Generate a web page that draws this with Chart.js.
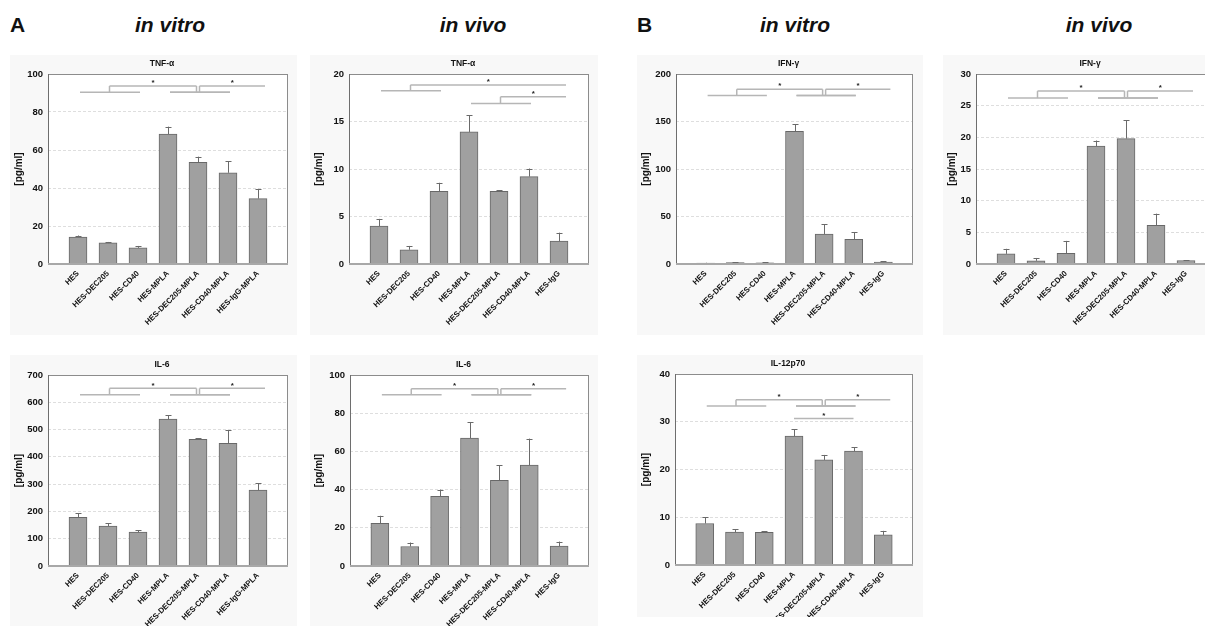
<!DOCTYPE html>
<html>
<head>
<meta charset="utf-8">
<script src="https://cdn.jsdelivr.net/npm/chart.js@4.4.1/dist/chart.umd.min.js"></script>
<style>
  html, body { margin: 0; padding: 0; background: #fff; width: 1205px; height: 626px; overflow: hidden; position: relative; }
  canvas { position: absolute; display: block; }
  .hdr { position: absolute; top: 14px; font: italic bold 21px 'Liberation Sans', Arial, sans-serif; line-height: 21px; color: #111; white-space: nowrap; transform: translateX(-50%); }
  .tag { position: absolute; top: 14px; font: bold 21px 'Liberation Sans', Arial, sans-serif; line-height: 21px; color: #111; }
</style>
</head>
<body>
<div class="tag" style="left:10px">A</div>
<div class="hdr" style="left:170px">in vitro</div>
<div class="hdr" style="left:473px">in vivo</div>
<div class="tag" style="left:637px">B</div>
<div class="hdr" style="left:795px">in vitro</div>
<div class="hdr" style="left:1099px">in vivo</div>

<script>
// Treatment groups
const labelsVitro = ['HES', 'HES-DEC205', 'HES-CD40', 'HES-MPLA', 'HES-DEC205-MPLA', 'HES-CD40-MPLA', 'HES-IgG-MPLA'];
const labelsVivo  = ['HES', 'HES-DEC205', 'HES-CD40', 'HES-MPLA', 'HES-DEC205-MPLA', 'HES-CD40-MPLA', 'HES-IgG'];

// Cytokine concentrations [pg/ml]: mean and upper error
const tnfVitroMean  = [14.2, 11.2, 8.5, 68.4, 53.5, 48.0, 34.4];
const tnfVitroErr   = [0.8, 0.4, 1.0, 3.9, 3.0, 6.0, 5.1];
const tnfVitroTicks = [0, 20, 40, 60, 80, 100];

const tnfVivoMean  = [4.0, 1.5, 7.65, 13.9, 7.65, 9.2, 2.4];
const tnfVivoErr   = [0.75, 0.4, 0.9, 1.75, 0.1, 0.85, 0.9];
const tnfVivoTicks = [0, 5, 10, 15, 20];

const ifnVitroMean  = [1.0, 1.5, 1.2, 139.6, 31.6, 26.0, 2.1];
const ifnVitroErr   = [0.3, 0.3, 0.8, 7.7, 10.5, 7.7, 1.0];
const ifnVitroTicks = [0, 50, 100, 150, 200];

const ifnVivoMean  = [1.6, 0.5, 1.7, 18.6, 19.8, 6.1, 0.55];
const ifnVivoErr   = [0.8, 0.45, 1.95, 0.9, 2.9, 1.85, 0.05];
const ifnVivoTicks = [0, 5, 10, 15, 20, 25, 30];

const il6VitroMean  = [178, 146, 124, 538, 464, 450, 278];
const il6VitroErr   = [16, 10, 7, 15, 5, 48, 26];
const il6VitroTicks = [0, 100, 200, 300, 400, 500, 600, 700];

const il6VivoMean  = [22.3, 10.2, 36.5, 67.0, 44.9, 52.8, 10.4];
const il6VivoErr   = [4.0, 2.1, 3.5, 8.4, 7.9, 13.9, 2.4];
const il6VivoTicks = [0, 20, 40, 60, 80, 100];

const il12VitroMean  = [8.7, 6.9, 6.85, 27.0, 22.0, 23.85, 6.3];
const il12VitroErr   = [1.3, 0.55, 0.2, 1.4, 1.05, 0.85, 0.85];
const il12VitroTicks = [0, 10, 20, 30, 40];

// Significant comparisons between groups (index ranges), bracket levels in pg/ml
const tnfVitroSig  = [{ a: [0, 2], b: [3, 5], low: 90.4, high: 93.7 }, { a: [3, 5], b: [6, 6], low: 90.4, high: 93.7 }];
const tnfVivoSig   = [{ a: [0, 2], b: [6, 6], low: 18.25, high: 18.85 }, { a: [3, 5], b: [6, 6], low: 16.9, high: 17.6 }];
const ifnVitroSig  = [{ a: [0, 2], b: [3, 5], low: 177.5, high: 183.9 }, { a: [3, 5], b: [6, 6], low: 177.5, high: 183.9 }];
const ifnVivoSig   = [{ a: [0, 2], b: [3, 5], low: 26.2, high: 27.3 }, { a: [3, 5], b: [6, 6], low: 26.2, high: 27.3 }];
const il6VitroSig  = [{ a: [0, 2], b: [3, 5], low: 628, high: 651 }, { a: [3, 5], b: [6, 6], low: 628, high: 651 }];
const il6VivoSig   = [{ a: [0, 2], b: [3, 5], low: 89.6, high: 92.8 }, { a: [3, 5], b: [6, 6], low: 89.6, high: 92.8 }];
const il12VitroSig = [{ a: [0, 2], b: [3, 5], low: 33.3, high: 34.6 }, { a: [3, 5], b: [6, 6], low: 33.3, high: 34.6 }, { a: [3, 3], b: [5, 5], high: 30.7 }];

const FONT = "'Liberation Sans', Arial, sans-serif";
Chart.defaults.font.family = FONT;
Chart.defaults.color = '#111';

// Panel layout: bg = [x, y, w, h] of panel box, plot = [left, top, right, bottom] of plot area (page px)
const panels = [
  { title: 'TNF-\u03b1',  labels: labelsVitro, mean: tnfVitroMean,  err: tnfVitroErr,  ticks: tnfVitroTicks,  sig: tnfVitroSig,  bg: [10, 55, 287, 280],  plot: [48, 74, 288, 264] },
  { title: 'TNF-\u03b1',  labels: labelsVivo,  mean: tnfVivoMean,   err: tnfVivoErr,   ticks: tnfVivoTicks,   sig: tnfVivoSig,   bg: [310, 55, 288, 280], plot: [349, 74, 589, 264] },
  { title: 'IFN-\u03b3',  labels: labelsVivo,  mean: ifnVitroMean,  err: ifnVitroErr,  ticks: ifnVitroTicks,  sig: ifnVitroSig,  bg: [637, 55, 286, 280], plot: [676, 74, 913, 264] },
  { title: 'IFN-\u03b3',  labels: labelsVivo,  mean: ifnVivoMean,   err: ifnVivoErr,   ticks: ifnVivoTicks,   sig: ifnVivoSig,   bg: [943, 55, 283, 280], plot: [976, 74, 1216, 264] },
  { title: 'IL-6',        labels: labelsVitro, mean: il6VitroMean,  err: il6VitroErr,  ticks: il6VitroTicks,  sig: il6VitroSig,  bg: [10, 355, 287, 271], plot: [48, 375, 288, 566] },
  { title: 'IL-6',        labels: labelsVivo,  mean: il6VivoMean,   err: il6VivoErr,   ticks: il6VivoTicks,   sig: il6VivoSig,   bg: [310, 355, 288, 271], plot: [350, 375, 589, 566] },
  { title: 'IL-12p70',    labels: labelsVivo,  mean: il12VitroMean, err: il12VitroErr, ticks: il12VitroTicks, sig: il12VitroSig, bg: [637, 355, 286, 262], plot: [675, 374, 913, 565] }
];

function line(ctx, x1, y1, x2, y2) {
  ctx.beginPath(); ctx.moveTo(x1, y1); ctx.lineTo(x2, y2); ctx.stroke();
}

// Panel background, frame, title, error bars and significance brackets
const decorPlugin = {
  id: 'decor',
  beforeDraw(chart) {
    const { ctx, chartArea: a, width, height } = chart;
    ctx.save();
    ctx.fillStyle = '#f8f8f8';
    ctx.fillRect(0, 0, width, height);
    ctx.fillStyle = '#ffffff';
    ctx.fillRect(a.left, a.top, a.right - a.left, a.bottom - a.top);
    ctx.restore();
  },
  afterDatasetsDraw(chart, args, opts) {
    const { ctx, chartArea: a } = chart;
    const xs = chart.scales.x, ys = chart.scales.y;
    const cfg = opts.panel;
    ctx.save();

    // error bars (upper only)
    const meta = chart.getDatasetMeta(0);
    ctx.strokeStyle = '#6a6a6a';
    ctx.lineWidth = 1;
    meta.data.forEach((bar, i) => {
      const x = Math.round(bar.x) + 0.5;
      const yTop = ys.getPixelForValue(cfg.mean[i] + cfg.err[i]);
      line(ctx, x, bar.y, x, yTop);
      line(ctx, x - 3, Math.round(yTop) + 0.5, x + 3, Math.round(yTop) + 0.5);
    });

    // frame
    ctx.lineWidth = 1;
    ctx.strokeStyle = '#8c8c8c';
    line(ctx, a.left, a.top + 0.5, a.right, a.top + 0.5);
    line(ctx, a.right - 0.5, a.top, a.right - 0.5, a.bottom);
    ctx.strokeStyle = '#6e6e6e';
    line(ctx, a.left + 0.5, a.top, a.left + 0.5, a.bottom);
    ctx.strokeStyle = '#a8a8a8';
    ctx.lineWidth = 2;
    line(ctx, a.left, a.bottom, a.right, a.bottom);

    // significance brackets
    const cx = i => xs.getPixelForValue(i + 1);
    ctx.strokeStyle = '#b6b6b6';
    ctx.lineWidth = 1.5;
    ctx.fillStyle = '#222';
    ctx.font = 'bold 8px ' + FONT;
    ctx.textAlign = 'center';
    ctx.textBaseline = 'middle';
    cfg.sig.forEach(s => {
      const yh = ys.getPixelForValue(s.high);
      const yl = s.low != null ? ys.getPixelForValue(s.low) : null;
      const ends = [s.a, s.b].map((g, k) => {
        if (g[0] === g[1]) {
          return cx(g[0]) + (k === 1 && yl !== null ? 7 : 0);
        }
        const x0 = cx(g[0]), x1 = cx(g[1]);
        line(ctx, x0 + 2, yl, x1 + 2, yl);
        const vx = (x0 + x1) / 2 + (k === 0 ? 1.5 : -1.5);
        line(ctx, vx, yl, vx, yh);
        return vx;
      });
      line(ctx, ends[0], yh, ends[1], yh);
      ctx.fillText('*', (ends[0] + ends[1]) / 2, yh - 3);
    });

    // chart title
    ctx.fillStyle = '#111';
    ctx.font = 'bold 8.5px ' + FONT;
    ctx.fillText(cfg.title, (a.left + a.right) / 2 - 6, a.top - 10);
    ctx.restore();
  }
};

panels.forEach(p => {
  const [bx, by, bw, bh] = p.bg;
  const [pl, pt, pr, pb] = p.plot;
  const canvas = document.createElement('canvas');
  canvas.width = bw; canvas.height = bh;
  canvas.style.left = bx + 'px'; canvas.style.top = by + 'px';
  canvas.style.width = bw + 'px'; canvas.style.height = bh + 'px';
  document.body.appendChild(canvas);

  const yMax = p.ticks[p.ticks.length - 1];
  new Chart(canvas, {
    type: 'bar',
    data: {
      datasets: [{
        data: p.mean.map((v, i) => ({ x: i + 1, y: v })),
        backgroundColor: '#a0a0a0',
        borderColor: '#686868',
        borderWidth: 1,
        borderSkipped: 'bottom',
        barThickness: 18
      }]
    },
    options: {
      responsive: false,
      animation: false,
      devicePixelRatio: 1,
      layout: { padding: { top: pt - by, right: bx + bw - pr, left: 0, bottom: 0 } },
      plugins: {
        legend: { display: false },
        tooltip: { enabled: false },
        decor: { panel: p }
      },
      scales: {
        x: {
          type: 'linear',
          min: 0, max: 8,
          offset: false,
          grid: { display: false, drawTicks: false },
          border: { display: false },
          afterBuildTicks: s => { s.ticks = p.labels.map((l, i) => ({ value: i + 1 })); },
          afterFit: s => { s.height = by + bh - pb; },
          ticks: {
            autoSkip: false,
            minRotation: 45, maxRotation: 45,
            padding: 5,
            color: '#111',
            font: { size: 7.8, weight: 'bold' },
            callback: v => p.labels[v - 1] || ''
          }
        },
        y: {
          min: 0, max: yMax,
          afterBuildTicks: s => { s.ticks = p.ticks.map(v => ({ value: v })); },
          afterFit: s => { s.width = pl - bx; },
          grid: {
            drawTicks: false,
            lineWidth: 1,
            color: c => (c.tick && (c.tick.value === 0 || c.tick.value === yMax)) ? 'rgba(0,0,0,0)' : '#dedede'
          },
          border: { display: false, dash: [3, 2] },
          ticks: {
            padding: 5,
            color: '#111',
            font: { size: 9.5, weight: 'bold' }
          },
          title: {
            display: true,
            text: '[pg/ml]',
            color: '#111',
            font: { size: 10, weight: 'bold' },
            padding: { top: 3, bottom: 0 }
          }
        }
      }
    },
    plugins: [decorPlugin]
  });
});
</script>
</body>
</html>
